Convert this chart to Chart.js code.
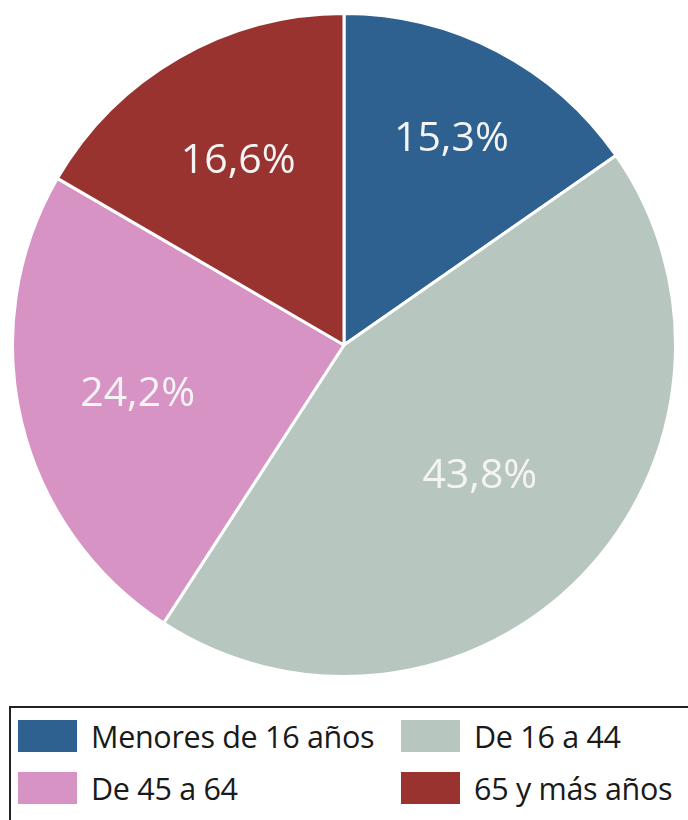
<!DOCTYPE html>
<html>
<head>
<meta charset="utf-8">
<script src="https://cdn.jsdelivr.net/npm/chart.js@4.4.1/dist/chart.umd.min.js"></script>
<style>
    body { margin: 0; background: #fff; width: 688px; height: 820px; overflow: hidden; position: relative; font-family: "Open Sans", "Noto Sans", sans-serif; }
    #pieBox { position: absolute; left: 11px; top: 11px; width: 666px; height: 668px; }
    #legendBox { position: absolute; left: 9px; top: 706px; width: 680px; height: 120px; border: 2.5px solid #222; border-right: none; border-bottom: none; box-sizing: border-box; }
    .item { position: absolute; display: flex; align-items: center; font-size: 30.5px; letter-spacing: -0.3px; color: #1a1a1a; white-space: nowrap; }
    .swatch { width: 59px; height: 32px; margin-right: 14px; flex: none; }
</style>
</head>
<body>
<div id="pieBox"><canvas id="pieChart"></canvas></div>
<div id="legendBox"></div>
<script>
var categories = ["Menores de 16 años", "De 16 a 44", "De 45 a 64", "65 y más años"];
var shares = [15.3, 43.8, 24.2, 16.6];
var pctLabels = ["15,3%", "43,8%", "24,2%", "16,6%"];
var colors = ["#2f6190", "#b7c6be", "#d793c4", "#993330"];

// etiquetas de porcentaje dentro de cada sector
var labelRadius = [0.70, 0.57, 0.64, 0.64];
var pctPlugin = {
    id: "pctLabels",
    afterDatasetsDraw: function (chart) {
        var ctx = chart.ctx;
        var meta = chart.getDatasetMeta(0);
        ctx.save();
        ctx.fillStyle = "#f4f4f4";
        ctx.font = "41px 'Open Sans', 'Noto Sans', sans-serif";
        ctx.textAlign = "center";
        ctx.textBaseline = "middle";
        meta.data.forEach(function (arc, i) {
            var p = arc.getProps(["x", "y", "startAngle", "endAngle", "outerRadius"], true);
            var mid = (p.startAngle + p.endAngle) / 2;
            var r = p.outerRadius * labelRadius[i];
            ctx.fillText(pctLabels[i], p.x + Math.cos(mid) * r, p.y + Math.sin(mid) * r);
        });
        ctx.restore();
    },
};

new Chart(document.getElementById("pieChart"), {
    type: "pie",
    data: {
        labels: categories,
        datasets: [
            {
                data: shares,
                backgroundColor: colors,
                borderColor: "#ffffff",
                borderWidth: 3,
            },
        ],
    },
    options: {
        responsive: true,
        maintainAspectRatio: false,
        animation: false,
        layout: { padding: 0 },
        plugins: {
            legend: { display: false },
            tooltip: { enabled: false },
        },
    },
    plugins: [pctPlugin],
});

// leyenda en dos columnas
var legendBox = document.getElementById("legendBox");
var legendPos = [[7, 12], [390, 12], [7, 64], [390, 64]];
categories.forEach(function (name, i) {
    var item = document.createElement("div");
    item.className = "item";
    item.style.left = legendPos[i][0] + "px";
    item.style.top = legendPos[i][1] - 5 + "px";
    var sw = document.createElement("span");
    sw.className = "swatch";
    sw.style.background = colors[i];
    item.appendChild(sw);
    item.appendChild(document.createTextNode(name));
    legendBox.appendChild(item);
});
</script>
</body>
</html>
